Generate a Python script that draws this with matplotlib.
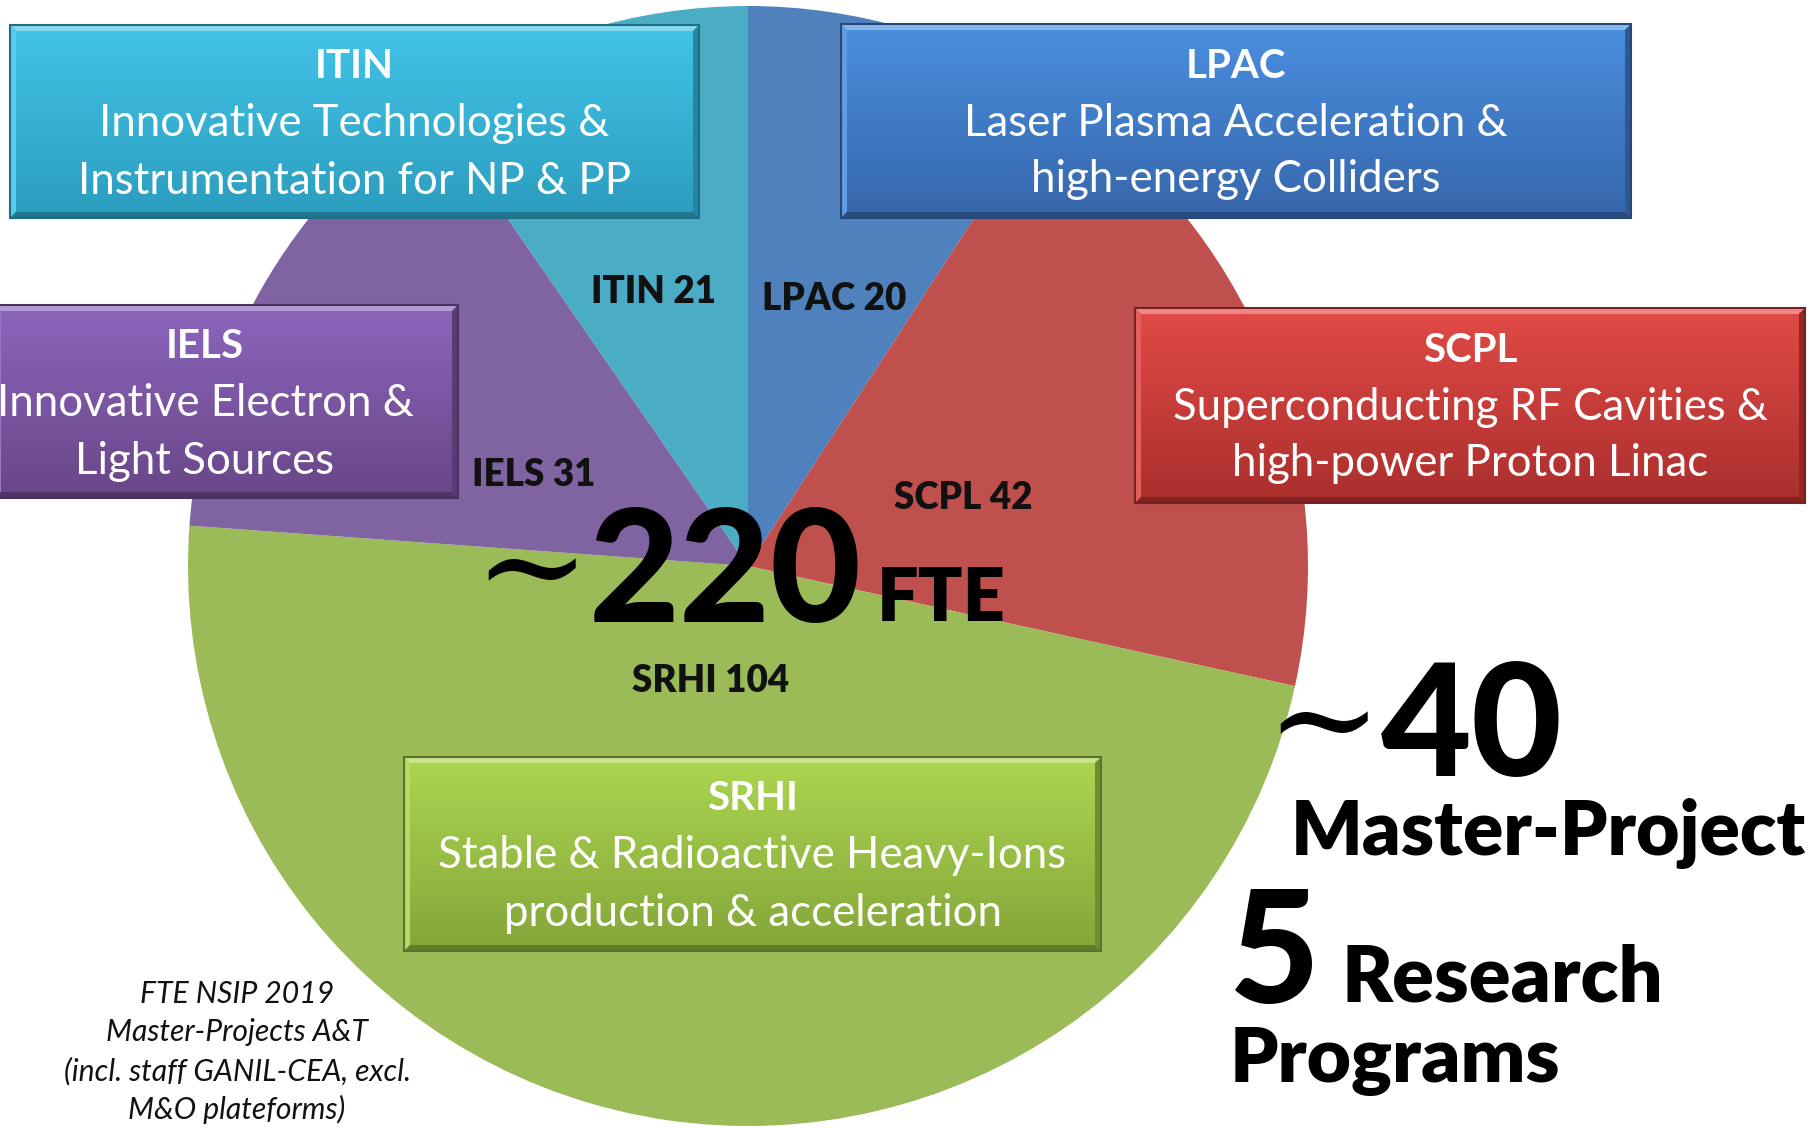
import numpy as np
import matplotlib
matplotlib.use("Agg")
import matplotlib.pyplot as plt
from matplotlib.colors import to_rgb
from matplotlib.patches import Rectangle, Polygon

# ---------------- data ----------------
programs = ["LPAC", "SCPL", "SRHI", "IELS", "ITIN"]
fte = [20, 42, 104, 31, 21]
slice_colors = ["#4F81BD", "#C0504D", "#9BBB59", "#8064A2", "#4BACC6"]
titles = {
    "ITIN": "Innovative Technologies &\nInstrumentation for NP & PP",
    "LPAC": "Laser Plasma Acceleration &\nhigh-energy Colliders",
    "SCPL": "Superconducting RF Cavities &\nhigh-power Proton Linac",
    "IELS": "Innovative Electron &\nLight Sources",
    "SRHI": "Stable & Radioactive Heavy-Ions\nproduction & acceleration",
}
total_text = "220"
mp_text = "40"
rp_text = "5"
note_lines = ["FTE NSIP 2019", "Master-Projects A&T", "(incl. staff GANIL-CEA, excl.", "M&O plateforms)"]

W, H = 1810, 1128
FONT = "Lato"
plt.rcParams['font.family'] = [FONT, 'DejaVu Sans']

fig = plt.figure(figsize=(W / 100, H / 100), dpi=100)
ax = fig.add_axes([0, 0, 1, 1])
ax.set_xlim(0, W)
ax.set_ylim(H, 0)
ax.axis('off')

# pie (inverted y axis: startangle -90 is the top, counterclock=True is visually clockwise)
cx, cy, R = 748, 566, 560
ax.pie(fte, colors=slice_colors, startangle=-90, counterclock=True,
       center=(cx, cy), radius=R, wedgeprops=dict(linewidth=0), frame=False)

# slice labels
label_pos = {"ITIN": (653, 292), "LPAC": (834, 299), "IELS": (534, 475),
             "SCPL": (963, 498), "SRHI": (711, 681)}
for p, v in zip(programs, fte):
    x, y = label_pos[p]
    ax.text(x, y, f"{p} {v}", ha='center', va='center', fontsize=26.5,
            fontweight='heavy', color='#111111', zorder=5)

# gradient boxes
box_geom = {
    "ITIN": (10, 25, 699, 218),
    "LPAC": (841, 24, 1631, 218),
    "SCPL": (1135, 308, 1805, 503),
    "IELS": (-5, 305, 458, 498),
    "SRHI": (404, 757, 1101, 951),
}
box_colors = {
    "ITIN": ("#42C4E8", "#2C9DBE"),
    "LPAC": ("#4A8FE0", "#3766AB"),
    "SCPL": ("#E24A46", "#AA2F2D"),
    "IELS": ("#8C65BC", "#694688"),
    "SRHI": ("#ABD650", "#84A63A"),
}


def mix(c, t, f):
    c = np.array(to_rgb(c)); t = np.array(to_rgb(t))
    return tuple(c * (1 - f) + t * f)


for p in programs:
    x0, y0, x1, y1 = box_geom[p]
    top, bot = box_colors[p]
    n = 64
    t = np.linspace(0, 1, n)[:, None]
    grad = (1 - t) * np.array(to_rgb(top)) + t * np.array(to_rgb(bot))
    grad = np.repeat(grad[:, None, :], 2, axis=1)
    ax.imshow(grad, extent=(x0, x1, y1, y0), origin='upper', aspect='auto',
              interpolation='bilinear', zorder=6)
    b = 6
    # bevel: top light, left slightly light, bottom/right dark
    ax.add_patch(Polygon([(x0, y0), (x1, y0), (x1 - b, y0 + b), (x0 + b, y0 + b)],
                         closed=True, facecolor=mix(top, 'white', 0.35), edgecolor='none', zorder=7))
    ax.add_patch(Polygon([(x0, y0), (x0 + b, y0 + b), (x0 + b, y1 - b), (x0, y1)],
                         closed=True, facecolor=mix(top, 'white', 0.12), edgecolor='none', zorder=7))
    ax.add_patch(Polygon([(x1, y0), (x1, y1), (x1 - b, y1 - b), (x1 - b, y0 + b)],
                         closed=True, facecolor=mix(bot, 'black', 0.15), edgecolor='none', zorder=7))
    ax.add_patch(Polygon([(x0, y1), (x1, y1), (x1 - b, y1 - b), (x0 + b, y1 - b)],
                         closed=True, facecolor=mix(bot, 'black', 0.25), edgecolor='none', zorder=7))
    ax.add_patch(Rectangle((x0, y0), x1 - x0, y1 - y0, facecolor='none',
                           edgecolor=mix(bot, 'black', 0.3), linewidth=1.5, zorder=8))
    xc = (x0 + x1) / 2
    if p == "IELS":
        xc = 205
    ax.text(xc, y0 + 42, p, ha='center', va='center', fontsize=29, fontweight='bold',
            color='white', zorder=9)
    lines = titles[p].split("\n")
    for i, ln in enumerate(lines):
        ax.text(xc, y0 + 99 + 57 * i, ln, ha='center', va='center', fontsize=31.5,
                color='white', zorder=9)

# big central text
ax.text(589, 622, total_text, ha='left', va='baseline', fontsize=113, fontweight='black',
        color='black', zorder=10)
ax.text(590, 575, "~", ha='right', va='center', fontsize=100, color='black', zorder=10,
        family='DejaVu Serif')
ax.text(877, 621, "FTE", ha='left', va='baseline', fontsize=53, fontweight='heavy',
        color='black', zorder=10)

# right-hand texts
ax.text(1381, 776, mp_text, ha='left', va='baseline', fontsize=113, fontweight='black',
        color='black', zorder=10)
ax.text(1382, 728, "~", ha='right', va='center', fontsize=100, color='black', zorder=10,
        family='DejaVu Serif')
ax.text(1806, 855, "Master-Project", ha='right', va='baseline', fontsize=54,
        fontweight='heavy', color='black', zorder=10)
ax.text(1228, 1003, rp_text, ha='left', va='baseline', fontsize=113, fontweight='black',
        color='black', zorder=10)
ax.text(1341, 1001, "Research", ha='left', va='baseline', fontsize=56, fontweight='heavy',
        color='black', zorder=10)
ax.text(1230, 1082, "Programs", ha='left', va='baseline', fontsize=55, fontweight='heavy',
        color='black', zorder=10)

# note
for i, ln in enumerate(note_lines):
    ax.text(237, 994 + 38.5 * i, ln, ha='center', va='center', fontsize=21.7,
            style='italic', color='#111111', zorder=10)

ax.set_xlim(0, W)
ax.set_ylim(H, 0)
fig.savefig("out.png", dpi=100)
